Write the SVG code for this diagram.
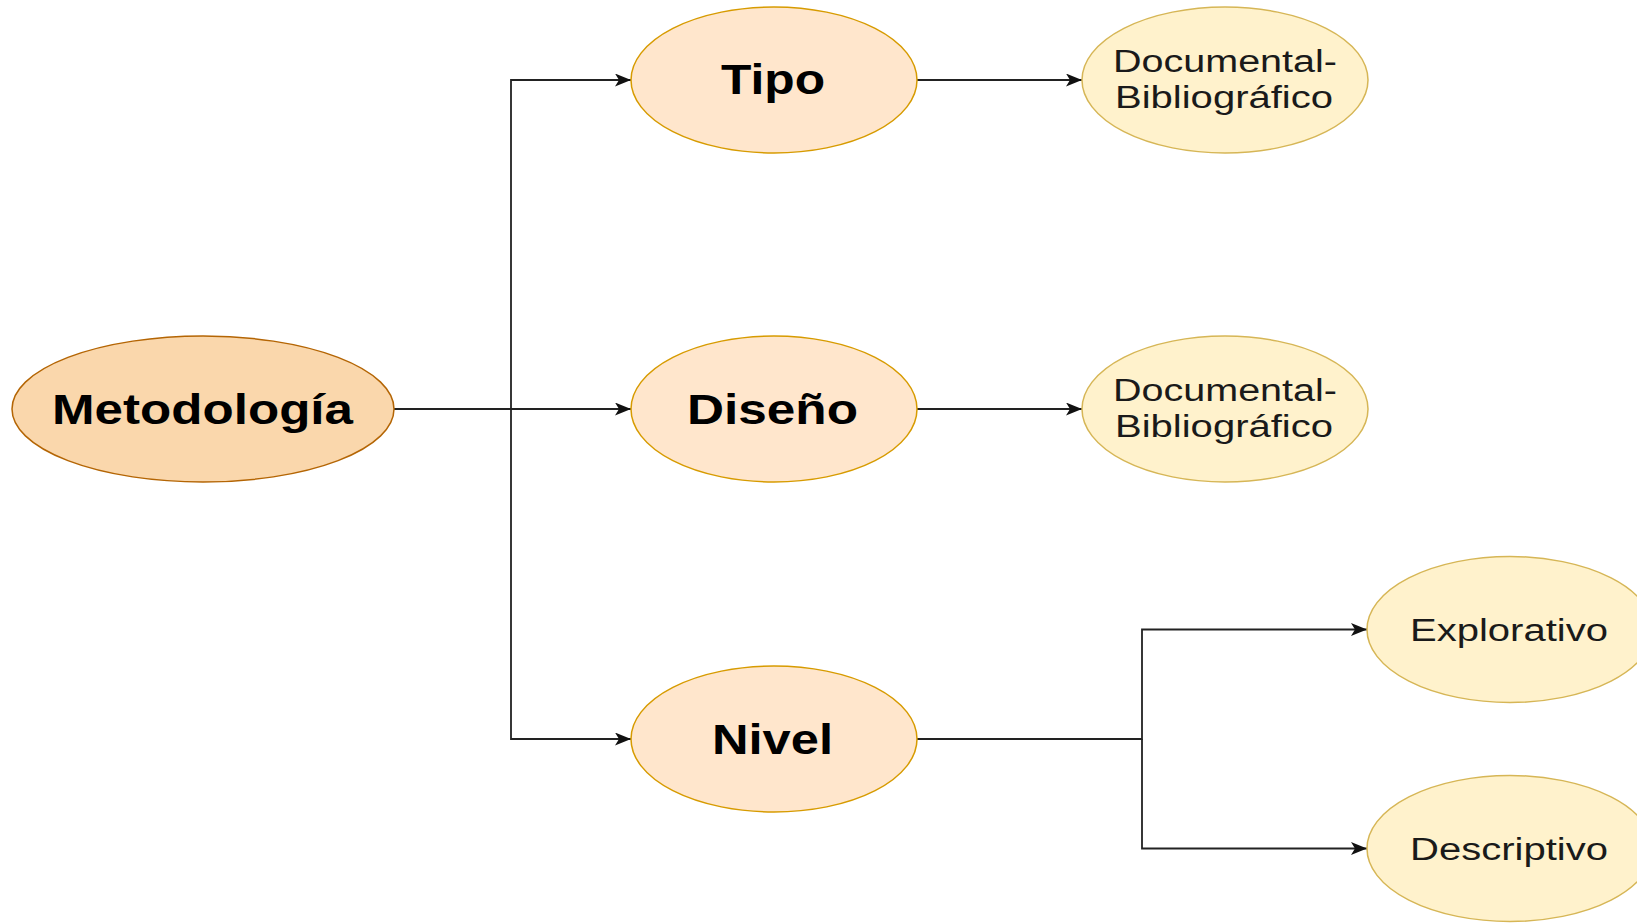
<svg xmlns="http://www.w3.org/2000/svg" width="1637" height="924" viewBox="0 0 1637 924">
  <style>
    .root { fill: #fad7ac; stroke: #b46504; stroke-width: 1.5; }
    .mid { fill: #ffe6cc; stroke: #d79b00; stroke-width: 1.5; }
    .leaf { fill: #fff2cc; stroke: #d6b656; stroke-width: 1.5; }
    .bold { font-family: "Liberation Sans", Arial, sans-serif; font-weight: bold; font-size: 42px; fill: #000; }
    .reg { font-family: "Liberation Sans", Arial, sans-serif; font-size: 31px; fill: #1a1a1a; }
    .edge { fill: none; stroke: #222; stroke-width: 1.8; }
  </style>
  <defs>
    <marker id="arrow" markerUnits="userSpaceOnUse" markerWidth="18" markerHeight="14" refX="16" refY="6.5" orient="auto">
      <path d="M0,0 L16,6.5 L0,13 L4,6.5 Z" fill="#111"/>
    </marker>
  </defs>
  <rect width="1637" height="924" fill="#ffffff"/>

  <g id="connectors">
    <path class="edge" d="M394,409 L631,409" marker-end="url(#arrow)"/>
    <path class="edge" d="M511,409 L511,80 L631,80" marker-end="url(#arrow)"/>
    <path class="edge" d="M511,409 L511,739 L631,739" marker-end="url(#arrow)"/>
    <path class="edge" d="M917,80 L1082,80" marker-end="url(#arrow)"/>
    <path class="edge" d="M917,409 L1082,409" marker-end="url(#arrow)"/>
    <path class="edge" d="M917,739 L1142,739 L1142,629.5 L1367,629.5" marker-end="url(#arrow)"/>
    <path class="edge" d="M1142,739 L1142,848.5 L1367,848.5" marker-end="url(#arrow)"/>
  </g>

  <g id="metodologia">
    <ellipse class="root" cx="203" cy="409" rx="191" ry="73"/>
    <text class="bold" x="52" y="424" textLength="301" lengthAdjust="spacingAndGlyphs">Metodología</text>
  </g>
  <g id="tipo">
    <ellipse class="mid" cx="774" cy="80" rx="143" ry="73"/>
    <text class="bold" x="721" y="94" textLength="104" lengthAdjust="spacingAndGlyphs">Tipo</text>
  </g>
  <g id="diseno">
    <ellipse class="mid" cx="774" cy="409" rx="143" ry="73"/>
    <text class="bold" x="687" y="424" textLength="171" lengthAdjust="spacingAndGlyphs">Diseño</text>
  </g>
  <g id="nivel">
    <ellipse class="mid" cx="774" cy="739" rx="143" ry="73"/>
    <text class="bold" x="712" y="754" textLength="121" lengthAdjust="spacingAndGlyphs">Nivel</text>
  </g>
  <g id="doc1">
    <ellipse class="leaf" cx="1225" cy="80" rx="143" ry="73"/>
    <text class="reg" x="1113" y="72" textLength="224" lengthAdjust="spacingAndGlyphs">Documental-</text>
    <text class="reg" x="1115" y="108" textLength="218" lengthAdjust="spacingAndGlyphs">Bibliográfico</text>
  </g>
  <g id="doc2">
    <ellipse class="leaf" cx="1225" cy="409" rx="143" ry="73"/>
    <text class="reg" x="1113" y="401" textLength="224" lengthAdjust="spacingAndGlyphs">Documental-</text>
    <text class="reg" x="1115" y="437" textLength="218" lengthAdjust="spacingAndGlyphs">Bibliográfico</text>
  </g>
  <g id="explorativo">
    <ellipse class="leaf" cx="1510" cy="629.5" rx="143" ry="73"/>
    <text class="reg" x="1410" y="641" textLength="198" lengthAdjust="spacingAndGlyphs">Explorativo</text>
  </g>
  <g id="descriptivo">
    <ellipse class="leaf" cx="1510" cy="848.5" rx="143" ry="73"/>
    <text class="reg" x="1410" y="860" textLength="198" lengthAdjust="spacingAndGlyphs">Descriptivo</text>
  </g>
</svg>
